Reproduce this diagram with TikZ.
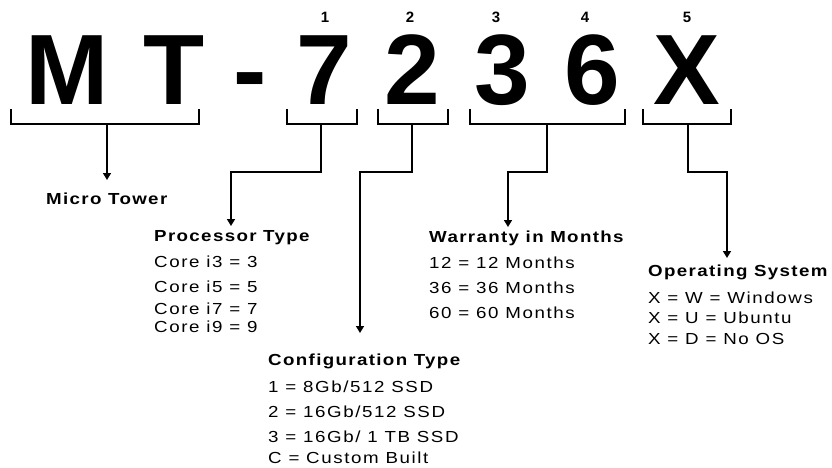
\documentclass[tikz,border=0pt]{standalone}
\usepackage{fontspec}
\setmainfont{Liberation Sans}
\newfontfamily\spfont[LetterSpace=10,FakeStretch=1.17]{Liberation Sans}
\newfontfamily\hdfont[LetterSpace=8.5,FakeStretch=1.17]{Liberation Sans}
\usetikzlibrary{arrows.meta}
\tikzset{
  big/.style={font=\fontsize{100}{100}\selectfont\bfseries, inner sep=0pt, anchor=base},
  idx/.style={font=\fontsize{15}{15}\selectfont\bfseries, inner sep=0pt, anchor=base},
  head/.style={font=\hdfont\fontsize{16}{17}\selectfont\bfseries, inner sep=0pt, anchor=base west},
  item/.style={font=\spfont\fontsize{16}{17}\selectfont, inner sep=0pt, anchor=base west},
  brk/.style={line width=2.8pt, line join=miter},
  conn/.style={line width=1.6pt, line join=miter},
  arr/.style={conn, -{Triangle[width=8pt,length=7pt]}}
}
\begin{document}
\begin{tikzpicture}[x=1pt,y=-1pt]
\useasboundingbox (0,0) rectangle (832,468);
% big code letters
\node[big] (cM) at (67,105) {M};
\node[big] (cT) at (174,105) {T};
\node[big] (cD) at (250,105) {-};
\node[big] (c7) at (324,105) {7};
\node[big] (c2) at (412,105) {2};
\node[big] (c3) at (502,105) {3};
\node[big] (c6) at (592,105) {6};
\node[big] (cX) at (687,105) {X};
% index digits
\node[idx] (i1) at (325,23) {1};
\node[idx] (i2) at (410,23) {2};
\node[idx] (i3) at (496,23) {3};
\node[idx] (i4) at (585,23) {4};
\node[idx] (i5) at (687,23) {5};
% brackets
\draw[brk] (11,109) -- (11,124) -- (199,124) -- (199,109);
\draw[brk] (287,109) -- (287,124) -- (357,124) -- (357,109);
\draw[brk] (378,109) -- (378,124) -- (448,124) -- (448,109);
\draw[brk] (470,109) -- (470,124) -- (625,124) -- (625,109);
\draw[brk] (643,109) -- (643,124) -- (731,124) -- (731,109);
% bracket stems
\coordinate (sMT) at (107,125);
\coordinate (s7) at (321,125);
\coordinate (s2) at (412,125);
\coordinate (s36) at (547,125);
\coordinate (sX) at (688,125);
% arrow tips
\coordinate (tMT) at (107,180);
\coordinate (t7) at (231,226);
\coordinate (t2) at (360,333);
\coordinate (t36) at (508,227);
\coordinate (tX) at (727,258);
% texts
\node[head] (mt) at (46,204) {Micro Tower};
\node[head] (pt) at (154,241.5) {Processor Type};
\node[item] (p1) at (154,267.5) {Core i3 = 3};
\node[item] (p2) at (154,292.5) {Core i5 = 5};
\node[item] (p3) at (154,314.5) {Core i7 = 7};
\node[item] (p4) at (154,332) {Core i9 = 9};
\node[head] (wt) at (429,242.5) {Warranty in Months};
\node[item] (w1) at (429,268.5) {12 = 12 Months};
\node[item] (w2) at (429,293.5) {36 = 36 Months};
\node[item] (w3) at (429,318.5) {60 = 60 Months};
\node[head] (ot) at (648,276.5) {Operating System};
\node[item] (o1) at (648,303.5) {X = W = Windows};
\node[item] (o2) at (648,323.5) {X = U = Ubuntu};
\node[item] (o3) at (648,344.5) {X = D = No OS};
\node[head] (ct) at (268,365.5) {Configuration Type};
\node[item] (k1) at (268,392.5) {1 = 8Gb/512 SSD};
\node[item] (k2) at (268,417.5) {2 = 16Gb/512 SSD};
\node[item] (k3) at (268,442.5) {3 = 16Gb/ 1 TB SSD};
\node[item] (k4) at (268,463.5) {C = Custom Built};
% connectors
\draw[arr] (sMT) -- (tMT);
\draw[arr] (s7) |- (231,172) -- (t7);
\draw[arr] (s2) |- (360,172) -- (t2);
\draw[arr] (s36) |- (508,172) -- (t36);
\draw[arr] (sX) |- (727,172) -- (tX);
\end{tikzpicture}
\end{document}
